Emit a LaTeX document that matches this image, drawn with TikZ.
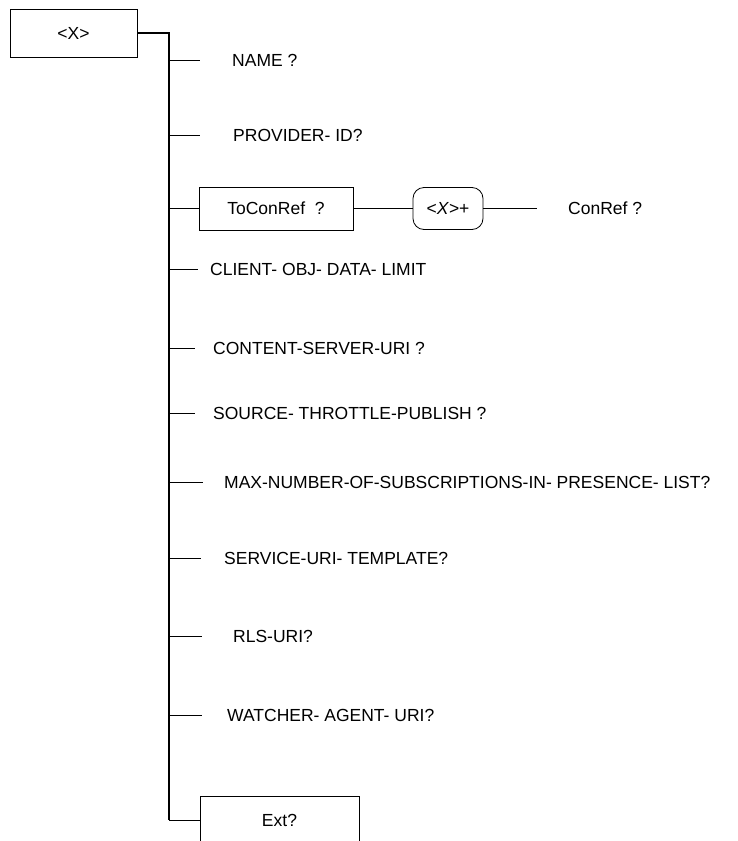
\documentclass[tikz,border=0pt]{standalone}
\usepackage{fontspec}
\setmainfont{Liberation Sans}
\begin{document}
\begin{tikzpicture}[x=1pt,y=-1pt,
  every node/.style={font=\fontsize{17.5}{21}\selectfont},
  boxnode/.style={draw,line width=0.8pt,inner sep=0pt},
  lbl/.style={anchor=west,inner sep=0pt},
  trunk/.style={line width=1.8pt},
  branch/.style={line width=0.9pt}]
\useasboundingbox (0,0) rectangle (738,841);
\clip (0,0) rectangle (738,841);
\node[boxnode,minimum width=127pt,minimum height=48pt] (top) at (73.5,33) {<X>};
\node[boxnode,minimum width=154pt,minimum height=43pt] (tcr) at (276,208.5) {ToConRef\ \ ?};
\node[boxnode,rounded corners=11pt,minimum width=70pt,minimum height=42pt] (xp) at (448,208.5) {<\textit{X}>+};
\node[lbl] (cr) at (568,208.5) {ConRef ?};
\coordinate (crl) at (537,208.5);
\node[boxnode,minimum width=159pt,minimum height=48pt] (ext) at (279.5,820) {Ext?};
\coordinate (tk1) at (169,33);
\coordinate (tk2) at (169,820);
\draw[trunk] (top.east) -- (tk1) -- (tk2);
\draw[branch] (tk2) -- (ext.west);
\draw[branch] (169,208.5) coordinate (btcr) -- (tcr.west);
\draw[branch] (tcr.east) -- (xp.west);
\draw[branch] (xp.east) -- (crl);
% simple branches
\foreach \y/\xe/\xt/\name/\txt in {
  60/200/232/nm/{NAME ?},
  135/200/233/pid/{PROVIDER- ID?},
  269/198/210/cod/{CLIENT- OBJ- DATA- LIMIT},
  348/195/213/csu/{CONTENT-SERVER-URI ?},
  413/195/213/stp/{SOURCE- THROTTLE-PUBLISH ?},
  482/203/224/max/{MAX-NUMBER-OF-SUBSCRIPTIONS-IN- PRESENCE- LIST?},
  558/201/224/sut/{SERVICE-URI- TEMPLATE?},
  636/202/233/rls/{RLS-URI?},
  715/202/227/wau/{WATCHER- AGENT- URI?}} {
  \coordinate (b\name) at (169,\y);
  \coordinate (e\name) at (\xe,\y);
  \node[lbl] (t\name) at (\xt,\y) {\txt};
  \draw[branch] (b\name) -- (e\name);
}
\end{tikzpicture}
\end{document}
